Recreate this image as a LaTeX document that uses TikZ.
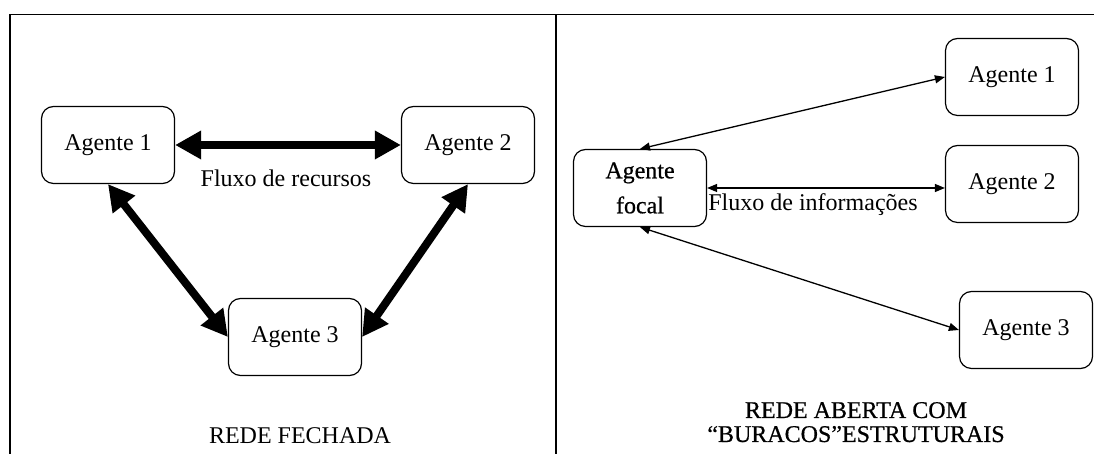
\documentclass[tikz,border=0pt]{standalone}
\usepackage{fontspec}
\setmainfont{Liberation Serif}
\newfontfamily\heavyserif[FakeBold=0.6]{Liberation Serif}
\usetikzlibrary{arrows.meta}
\usetikzlibrary{positioning}

\begin{document}
\begin{tikzpicture}[
    x=1pt, y=1pt,
    font=\fontsize{24}{28}\selectfont,
    agent/.style={draw, rounded corners=12pt, minimum width=133pt,
                  minimum height=77pt, inner sep=0pt, line width=1.2pt},
    bigflow/.style={{Triangle[length=26pt,width=27pt]}-{Triangle[length=26pt,width=27pt]},
                    line width=8pt},
    smallflow/.style={{Triangle[length=10pt,width=8pt]}-{Triangle[length=10pt,width=8pt]},
                      line width=1.3pt},
    frame/.style={line width=1.5pt},
    caption/.style={align=center},
]

\def\W{1094}     % picture width
\def\H{454}      % picture height
\def\divx{556}   % divider between the two panels

\useasboundingbox (0,0) rectangle (\W,\H);

% Frame: top rule, left rule and the divider
\draw[frame] (10,0) -- (10,\H-14.5) -- (\W,\H-14.5);
\draw[frame] (\divx,0) -- (\divx,\H-14.5);

% ══════════════════════════════════════════════════════════════
% LEFT PANEL: closed network
% ══════════════════════════════════════════════════════════════
\node[agent] (a1) at (108,309) {Agente 1};
\node[agent] (a2) at (468,309) {Agente 2};
\node[agent] (a3) at (295,117) {Agente 3};

\draw[bigflow] (a1.east) -- (a2.west);
\draw[bigflow] (a1.south) -- (a3.west);
\draw[bigflow] (a2.south) -- (a3.east);

\node (recursos) at (286,276) {Fluxo de recursos};
\node[caption, anchor=base] (fechada) at (300,10) {REDE FECHADA};

% ══════════════════════════════════════════════════════════════
% RIGHT PANEL: open network with structural holes
% ══════════════════════════════════════════════════════════════
\node[agent, align=center, font=\fontsize{24}{35}\selectfont\heavyserif]
    (focal) at (640,266) {Agente\\focal};
\node[agent] (b1) at (1012,377) {Agente 1};
\node[agent] (b2) at (1012,270) {Agente 2};
\node[agent] (b3) at (1026,124) {Agente 3};

\draw[smallflow] (focal.north) -- (b1.west);
\draw[smallflow] (focal.east) -- (focal.east -| b2.west);
\draw[smallflow] (focal.south) -- (b3.west);

\node (informacoes) at (813,249) {Fluxo de informações};
\node[caption, anchor=base, font=\fontsize{24}{24}\selectfont\heavyserif]
    (aberta) at (856,12) {REDE ABERTA COM\\“BURACOS”ESTRUTURAIS};

\end{tikzpicture}
\end{document}
